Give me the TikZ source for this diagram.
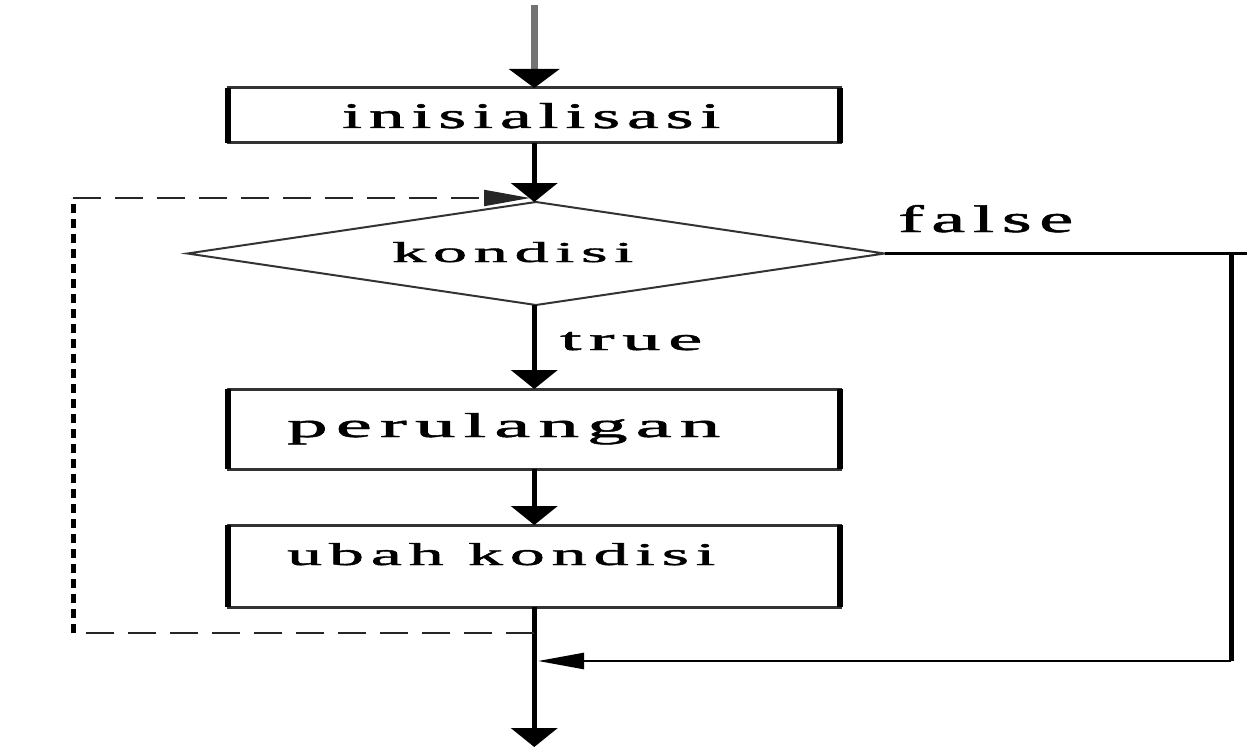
\documentclass[tikz,border=0pt]{standalone}
\usepackage{fontspec}
\setmainfont{Liberation Serif}
\newfontfamily\lblfont[LetterSpace=10,FakeBold=1.2]{Liberation Serif}
\usetikzlibrary{arrows.meta,shapes.geometric}
% stretched label: width, height above baseline, text
\newcommand{\lbl}[3]{\resizebox{#1pt}{#2pt}{\lblfont #3}}

\begin{document}
\begin{tikzpicture}[x=1pt,y=-1pt,
  procbox/.style={rectangle, draw=black!80, line width=3pt, inner sep=0pt,
    outer sep=0pt, minimum width=612pt},
  sideedge/.style={line width=6pt, black},
  decision/.style={diamond, draw=black!80, line width=2pt, inner sep=0pt,
    outer sep=0pt, aspect=6.77, minimum width=697pt, minimum height=103pt},
  txt/.style={inner sep=0pt, anchor=base west},
  vtip/.style={-{Triangle[width=46pt,length=19pt]}},
  htip/.style={-{Triangle[width=16pt,length=46pt]}},
  vconn/.style={line width=5pt, black, vtip},
  hthin/.style={line width=2.5pt, black},
  vthick/.style={line width=5pt, black},
  loopdash/.style={line width=2pt, black!85, dash pattern=on 28pt off 14pt},
  loopdot/.style={line width=5pt, black, dash pattern=on 9pt off 6pt}
]
\useasboundingbox (0,0) rectangle (1247,749);

% process boxes and the decision
\node[procbox, minimum height=55pt] (b1) at (534.25,115.5) {};
\node[decision] (d) at (536,253.5) {};
\node[procbox, minimum height=80pt] (b2) at (534.25,429) {};
\node[procbox, minimum height=82pt] (b3) at (534.25,566) {};
\foreach \b in {b1,b2,b3}{
  \draw[sideedge] (\b.north west) -- (\b.south west);
  \draw[sideedge] (\b.north east) -- (\b.south east);
}

% labels
\node[txt] (t1) at (342,128) {\lbl{378}{25}{inisialisasi}};
\node[txt] (t2) at (392,262) {\lbl{241}{20}{kondisi}};
\node[txt] (t3) at (287,437) {\lbl{433}{24}{perulangan}};
\node[txt] (t4) at (287,565) {\lbl{428}{22}{ubah kondisi}};
\node[txt] (ttrue) at (560,350) {\lbl{142}{18}{true}};
\node[txt] (tfalse) at (898,232) {\lbl{175}{27}{false}};

% entry
\coordinate (top) at (534.25,5);
\draw[line width=7pt, black!55, -{Triangle[width=50pt,length=19pt,fill=black,color=black]}] (top) -- (b1.north);

% main flow
\draw[vconn] (b1.south) -- (d.north -| b1.south);
\draw[vconn] (d.south -| b2.north) -- (b2.north);
\draw[vconn] (b2.south) -- (b3.north);
\coordinate (exit) at (534.25,747);
\draw[vconn] (b3.south) -- (exit);

% loop back (dashed)
\coordinate (lb) at (534.25,633);
\coordinate (lbl) at (73,633);
\coordinate (ltl) at (73,198);
\coordinate (ltr) at (530,198);
\draw[loopdash] (lb) -- (lbl);
\draw[loopdot] (lbl) -- (ltl);
\draw[loopdash, htip] (ltl) -- (ltr);

% false branch
\coordinate (fe) at (1247,253.5);
\coordinate (fc) at (1231,253.5);
\coordinate (fb) at (1231,661);
\coordinate (fin) at (538,661);
\draw[hthin] (d.east) -- (fe);
\draw[vthick] (fc) -- (fb);
\draw[hthin, htip] (fb) -- (fin);
\end{tikzpicture}
\end{document}
